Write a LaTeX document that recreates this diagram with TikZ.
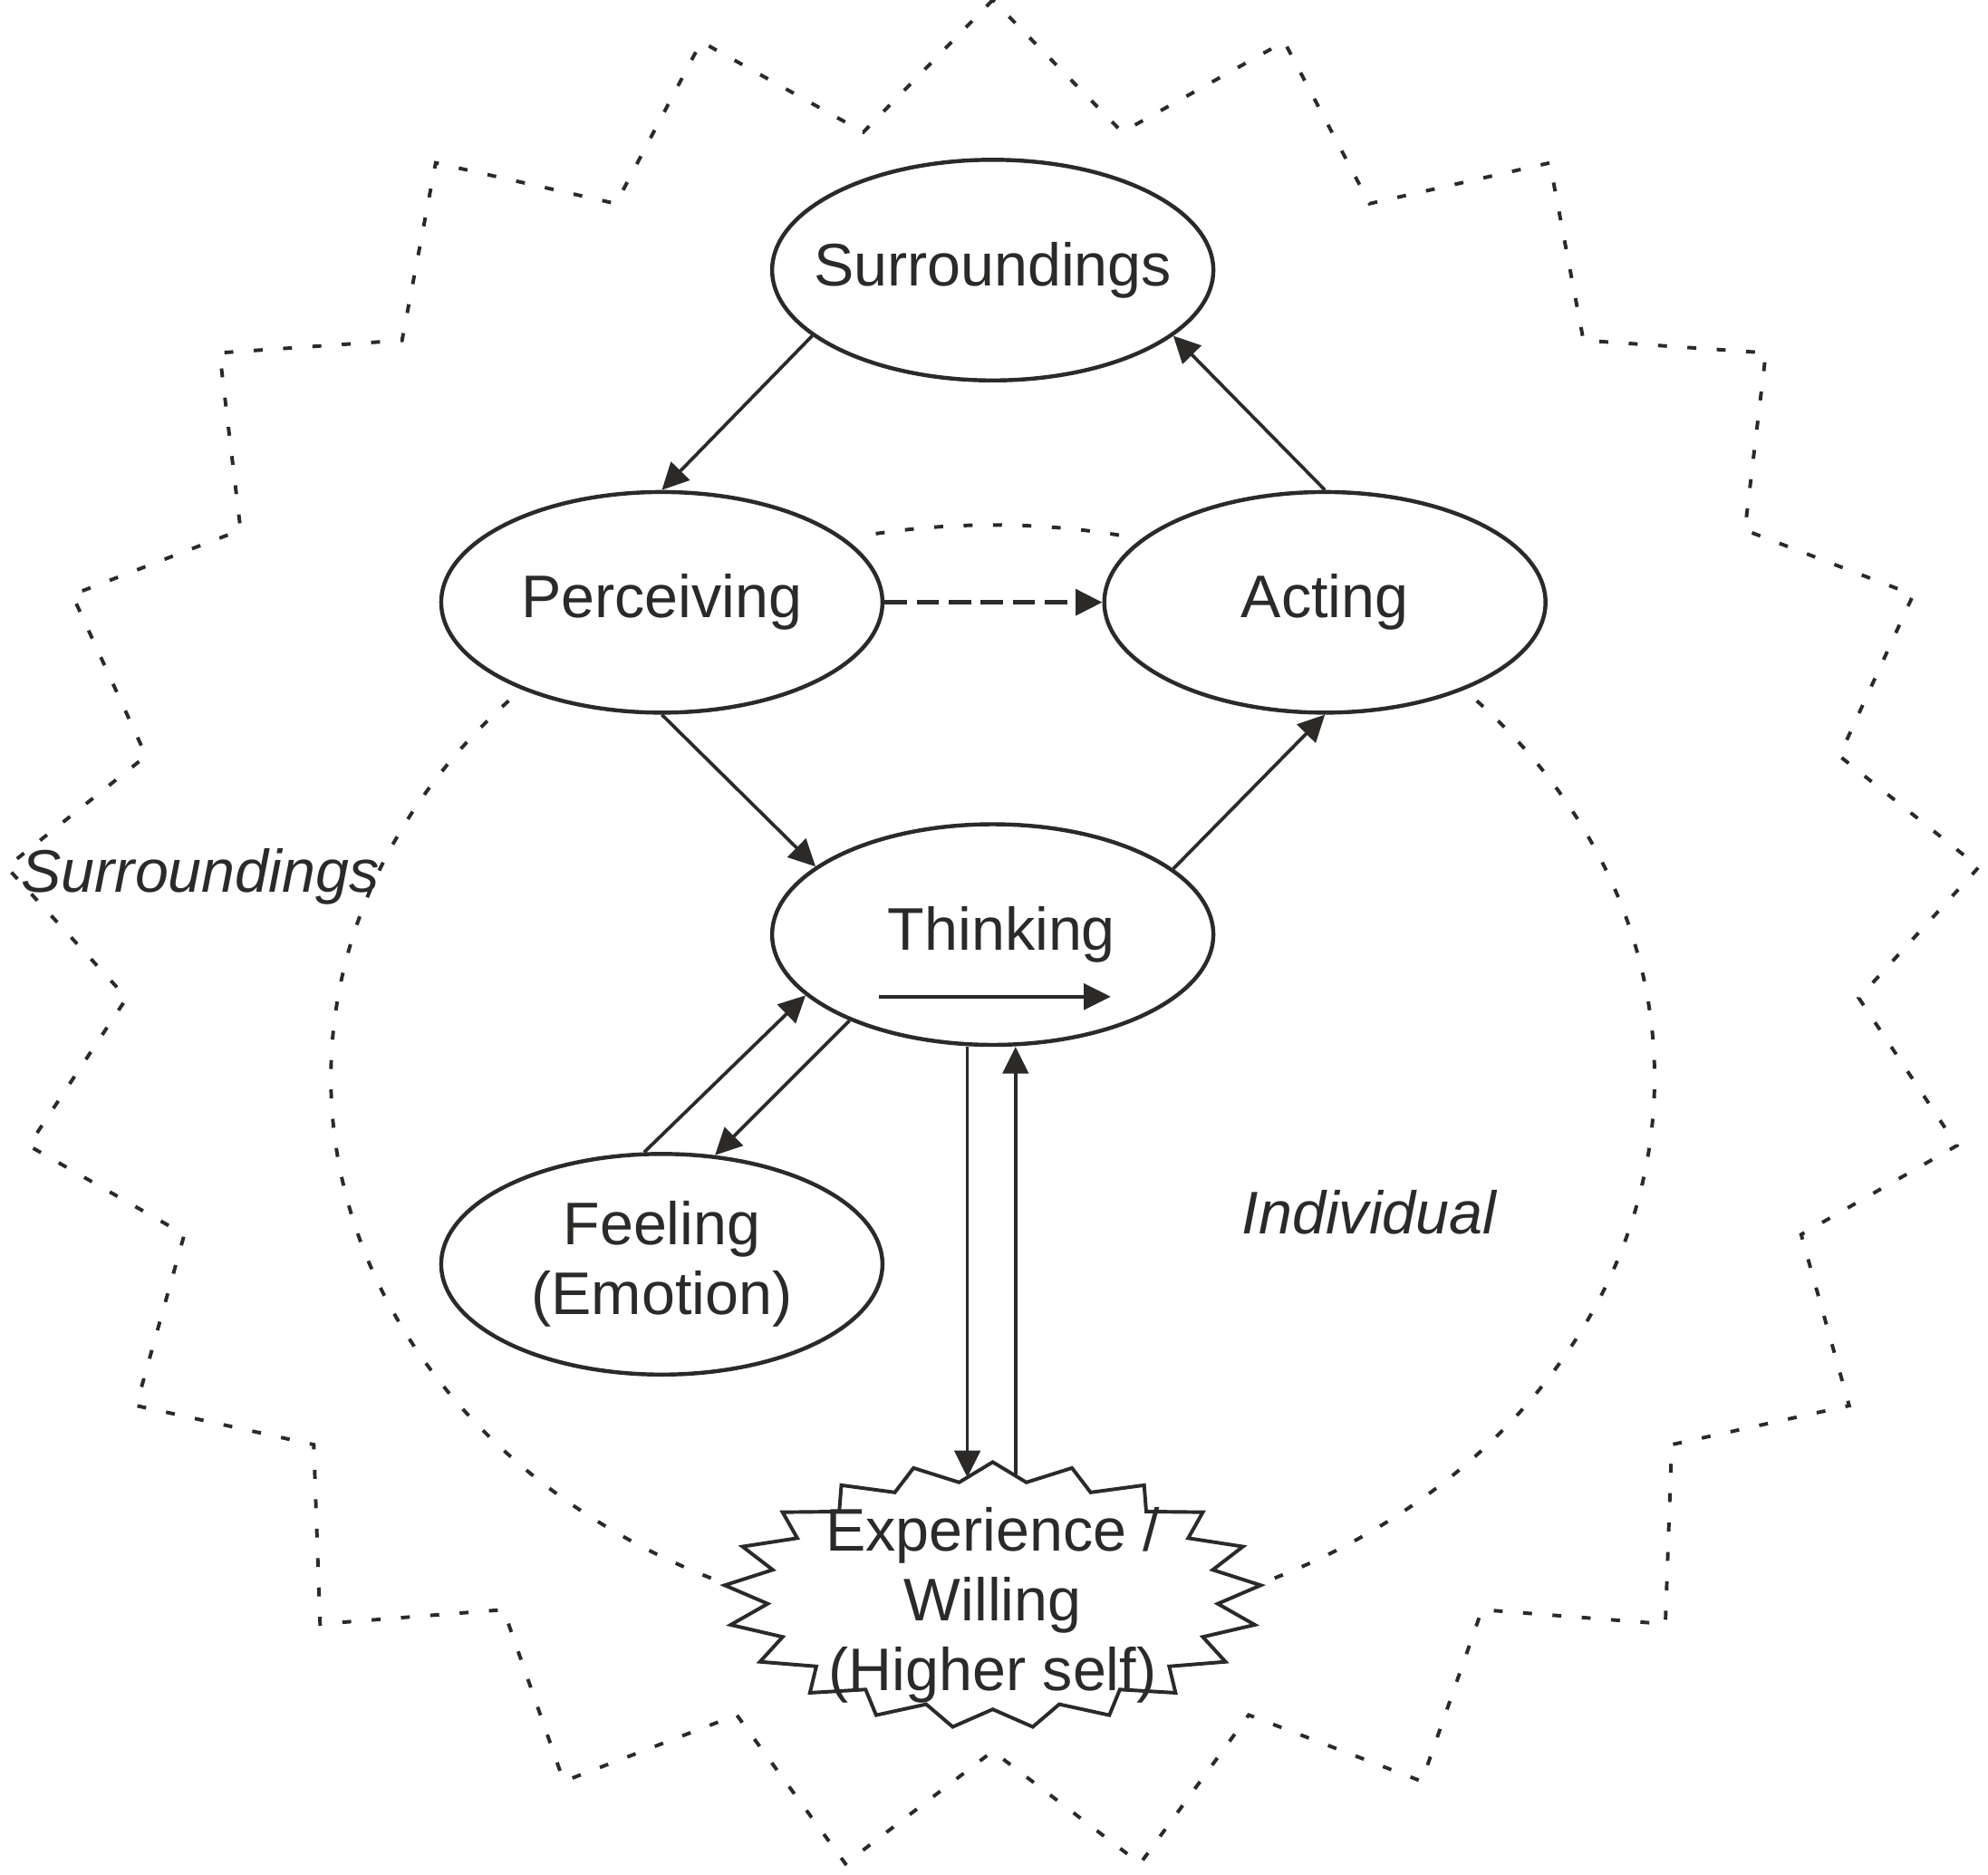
\documentclass[tikz,border=0pt]{standalone}
\usepackage{fontspec}
\setmainfont{Liberation Sans}
\usetikzlibrary{shapes.geometric, arrows.meta}
\definecolor{ink}{RGB}{43,42,41}

\begin{document}
\begin{tikzpicture}[
    font=\fontsize{13.5}{15.6}\selectfont,
    every node/.style={text=ink},
    bubble/.style={ellipse, draw=ink, line width=0.9pt, fill=white,
      minimum width=3.48cm, minimum height=1.74cm, inner sep=0pt},
    arr/.style={draw=ink, line width=0.75pt, -{Triangle[length=6pt, width=5.8pt]}},
    dots/.style={draw=ink, line width=0.8pt, dash pattern=on 2pt off 4.6pt},
    tag/.style={font=\fontsize{13.5}{15.6}\selectfont\itshape}]
  \useasboundingbox (0,0) rectangle (15.68,-14.78);
  % surroundings (outer jagged border)
  \draw[dots, shift={(7.83,-7.39)}] (90:7.80 and 7.39)
    \foreach \k in {1,...,21} {
      -- ({90+(\k-0.5)*360/21}:6.85 and 6.42) -- ({90+\k*360/21}:7.80 and 7.39)
    } -- cycle;
  % individual (inner border)
  \draw[dots] (7.83,-8.50) ++(137:5.22 and 4.36)
    arc[start angle=137, end angle=250, x radius=5.22, y radius=4.36];
  \draw[dots] (7.83,-8.50) ++(-70:5.22 and 4.36)
    arc[start angle=-70, end angle=43, x radius=5.22, y radius=4.36];
  \draw[dots] (7.83,-8.50) ++(79:5.22 and 4.36)
    arc[start angle=79, end angle=101, x radius=5.22, y radius=4.36];
  % labels
  \node[tag] (outlbl) at (1.58,-6.91) {Surroundings};
  \node[tag] (inlbl) at (10.80,-9.56) {Individual};
  % ellipses
  \node[bubble] (surr) at (7.83,-2.13) {\makebox[0pt]{Surroundings}};
  \node[bubble] (perc) at (5.22,-4.75) {Perceiving};
  \node[bubble] (act) at (10.45,-4.75) {Acting};
  \node[bubble] (think) at (7.83,-7.37) {\hspace*{0.14cm}Thinking};
  \node[bubble, align=center] (feel) at (5.22,-9.97) {Feeling\\(Emotion)};
  % higher self burst
  \draw[ink, line width=0.8pt, fill=white, shift={(7.83,-12.58)}] (90:2.12 and 1.05)
    \foreach \k in {1,...,21} {
      -- ({90+(\k-0.5)*360/21}:1.78 and 0.90) -- ({90+\k*360/21}:2.12 and 1.05)
    } -- cycle;
  \node[align=center] (exp) at (7.83,-12.66) {Experience /\\Willing\\(Higher self)};
  \coordinate (expin) at (7.63,-11.65);
  \coordinate (expout) at (8.01,-11.63);
  % cycle arrows
  \draw[arr] (surr.200) -- (perc.north);
  \draw[arr] (act.north) -- (surr.340);
  \draw[arr, line width=0.95pt, dash pattern=on 5pt off 2.2pt] (perc.east) -- (act.west);
  \draw[arr] (perc.south) -- (think.159);
  \draw[arr] (think.20) -- (act.south);
  \draw[arr] (feel.99) -- (think.198);
  \draw[arr] (think.211) -- (feel.64);
  \draw[arr] (think.south -| expin) -- (expin);
  \draw[arr] (expout) -- (think.south -| expout);
  % arrow inside thinking
  \draw[arr] ([shift={(-0.90,-0.49)}]think.center) -- ([shift={(0.93,-0.49)}]think.center);
\end{tikzpicture}
\end{document}
